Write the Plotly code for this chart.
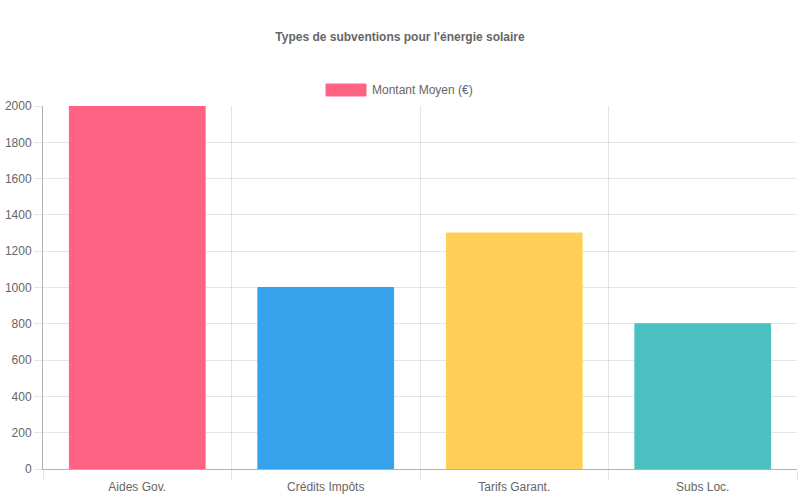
import plotly.graph_objects as go

categories = ["Aides Gov.", "Crédits Impôts", "Tarifs Garant.", "Subs Loc."]
values = [2000, 1000, 1300, 800]
series_name = "Montant Moyen (€)"
colors = ["#FF6384", "#36A2EB", "#FFCE56", "#4BC0C0"]
title_text = "Types de subventions pour l'énergie solaire"

W, H = 800, 500
L, R, T, B = 43, 3, 106, 31
pw, ph = W - L - R, H - T - B

def px_x(x):
    return (x - L) / pw

def px_y(y):
    return (H - B - y) / ph

fig = go.Figure()
fig.add_trace(go.Bar(
    x=categories, y=values, name=series_name,
    marker=dict(color=colors, line=dict(color=colors, width=1)),
    width=0.72, showlegend=False,
))

font = dict(family="Liberation Sans, Arial, sans-serif", size=12, color="#666666")

fig.update_layout(
    width=W, height=H,
    margin=dict(l=L, r=R, t=T, b=B, pad=0, autoexpand=False),
    paper_bgcolor="white", plot_bgcolor="white",
    font=font,
    title=dict(text="<b>" + title_text + "</b>", x=0.5, xanchor="center",
               y=1 - 37 / H, yanchor="middle", yref="container",
               font=dict(family="Liberation Sans, Arial, sans-serif", size=12, color="#666666")),
    xaxis=dict(type="category", tickson="boundaries", showgrid=True,
               gridcolor="rgba(0,0,0,0.1)", gridwidth=1,
               ticks="outside", ticklen=10, tickcolor="rgba(0,0,0,0.1)",
               showline=True, linecolor="rgba(0,0,0,0.3)", linewidth=1,
               tickfont=font, range=[-0.5, 3.5], ticklabelstandoff=7,
               automargin=False),
    yaxis=dict(range=[0, 2000], dtick=200, showgrid=True,
               gridcolor="rgba(0,0,0,0.1)", gridwidth=1,
               ticks="outside", ticklen=8, tickcolor="rgba(0,0,0,0.1)",
               showline=True, linecolor="rgba(0,0,0,0.3)", linewidth=1,
               zeroline=False, tickfont=font, ticklabelstandoff=0,
               automargin=False),
    bargap=0.28,
)

# custom legend (Chart.js style)
fig.add_shape(type="rect", xref="paper", yref="paper",
              x0=px_x(326), x1=px_x(366), y0=px_y(96), y1=px_y(84),
              fillcolor=colors[0], line=dict(color=colors[0], width=1))
fig.add_annotation(xref="paper", yref="paper", x=px_x(370), y=px_y(90),
                   xanchor="left", yanchor="middle", text=series_name,
                   showarrow=False, font=font)

fig.write_html("out.html", config={"displayModeBar": False},
               post_script="document.body.style.margin='0';")
